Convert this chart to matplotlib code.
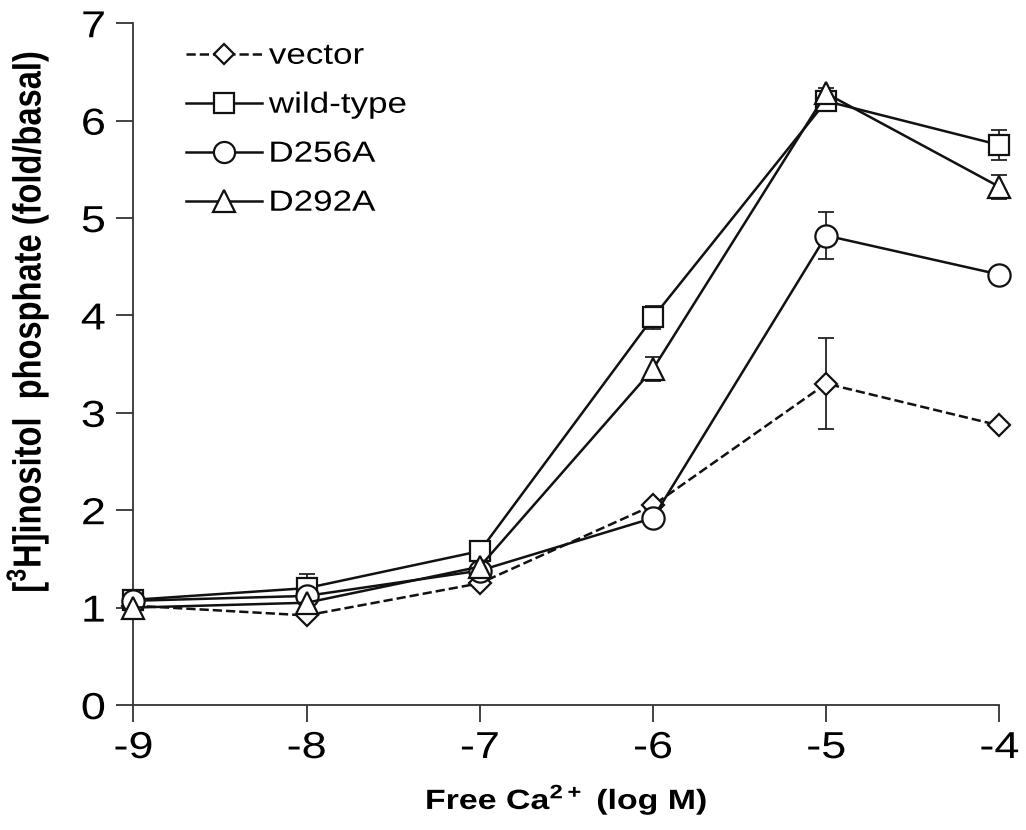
import numpy as np
import matplotlib
matplotlib.use('Agg')
import matplotlib.pyplot as plt
from matplotlib.patheffects import AbstractPathEffect
from matplotlib.transforms import Affine2D
from matplotlib.path import Path

plt.rcParams['font.family'] = ['Liberation Sans', 'DejaVu Sans']
plt.rcParams['mathtext.fontset'] = 'custom'
plt.rcParams['mathtext.rm'] = 'Liberation Sans'
plt.rcParams['mathtext.bf'] = 'Liberation Sans:bold'
plt.rcParams['axes.unicode_minus'] = False

# data
log_ca = [-9, -8, -7, -6, -5, -4]
vector = [1.02, 0.92, 1.25, 2.05, 3.30, 2.87]
vector_err = [0, 0, 0, 0, 0.47, 0]
wild_type = [1.08, 1.20, 1.58, 3.98, 6.20, 5.75]
wild_type_err = [0, 0.15, 0, 0.12, 0.05, 0.15]
d256a = [1.07, 1.12, 1.38, 1.92, 4.82, 4.42]
d256a_err = [0, 0, 0, 0, 0.24, 0]
d292a = [1.00, 1.05, 1.42, 3.45, 6.28, 5.32]
d292a_err = [0, 0, 0, 0.12, 0.05, 0.12]

series = [
    ('vector', vector, vector_err, 'D', '--', 11),
    ('wild-type', wild_type, wild_type_err, 's', '-', 15),
    ('D256A', d256a, d256a_err, 'o', '-', 16),
    ('D292A', d292a, d292a_err, '^', '-', 16),
]


class HStretch(AbstractPathEffect):
    """Widen text horizontally (the source figure is stretched in x)."""

    def __init__(self, sx=1.2, anchor='center'):
        super().__init__()
        self.sx = sx
        self.anchor = anchor

    def draw_path(self, renderer, gc, tpath, affine, rgbFace=None):
        verts = tpath.vertices
        if tpath.codes is not None:
            verts = verts[tpath.codes != Path.CLOSEPOLY]
        if len(verts) == 0:
            return
        xs = affine.transform(verts)[:, 0]
        ref = {'left': xs.min(), 'right': xs.max(),
               'center': 0.5 * (xs.min() + xs.max())}[self.anchor]
        aff = affine + Affine2D().translate(-ref, 0).scale(self.sx, 1).translate(ref, 0)
        renderer.draw_path(gc, tpath, aff, rgbFace)


fig = plt.figure(figsize=(10.26, 8.3), dpi=100)
ax = fig.add_axes([0.13, 0.1506, 0.8441, 0.8214])

for name, y, err, mk, ls, ms in series:
    ax.errorbar(log_ca, y, yerr=err, fmt='none', ecolor='#222222',
                elinewidth=1.3, capsize=6, capthick=1.3, clip_on=False, zorder=2)
    ax.plot(log_ca, y, linestyle=ls, color='#111111', linewidth=1.8,
            marker=mk, markersize=ms, markerfacecolor='white',
            markeredgecolor='#111111', markeredgewidth=1.6,
            label=name, clip_on=False, zorder=3)

ax.set_xlim(-9, -4)
ax.set_ylim(0, 7)
ax.set_xticks(log_ca)
ax.set_yticks(range(0, 8))
ax.tick_params(axis='both', direction='out', length=12, width=1.3,
               labelsize=27, color='#333333')
ax.tick_params(axis='x', pad=6)
ax.tick_params(axis='y', pad=8)
for side in ['top', 'right']:
    ax.spines[side].set_visible(False)
for side in ['left', 'bottom']:
    ax.spines[side].set_linewidth(1.3)
    ax.spines[side].set_color('#333333')

ax.set_xlabel(r'Free Ca$^{\mathbf{2+}}$ (log M)', fontsize=20, fontweight='bold', labelpad=12)
ax.set_ylabel(r'[$^{\mathbf{3}}$H]inositol  phosphate (fold/basal)', fontsize=23.5,
              fontweight='bold')
ax.yaxis.set_label_coords(-0.098, 0.562)

leg = ax.legend(loc='upper left', bbox_to_anchor=(0.047, 0.99), frameon=False,
                fontsize=21, handlelength=2.6, handletextpad=0.25, labelspacing=0.72,
                markerscale=0.95, borderaxespad=0)

for lab in ax.get_xticklabels():
    lab.set_path_effects([HStretch(1.2, 'center')])
for lab in ax.get_yticklabels():
    lab.set_path_effects([HStretch(1.2, 'right')])
for txt in leg.get_texts():
    txt.set_path_effects([HStretch(1.2, 'left')])
ax.xaxis.label.set_path_effects([HStretch(1.22, 'center')])
ax.yaxis.label.set_path_effects([HStretch(1.2, 'center')])

fig.savefig('out.png', dpi=100)
